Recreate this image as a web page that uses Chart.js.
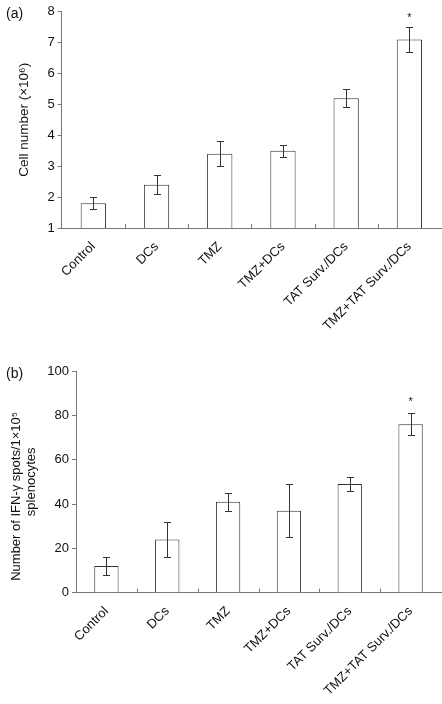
<!DOCTYPE html>
<html>
<head>
<meta charset="utf-8">
<script src="https://cdn.jsdelivr.net/npm/chart.js@4/dist/chart.umd.min.js"></script>
<style>
html,body{margin:0;padding:0;background:#fff;}
#wrap{position:relative;width:442px;height:704px;overflow:hidden;font-family:'Liberation Sans',Arial,sans-serif;}
canvas{position:absolute;left:0;}
#ca{top:0;}
#cb{top:352px;}
.plabel{position:absolute;font-size:14px;color:#111;line-height:1;}
</style>
</head>
<body>
<div id="wrap">
<canvas id="ca" width="442" height="352"></canvas>
<canvas id="cb" width="442" height="352"></canvas>
<div class="plabel" style="left:6px;top:6px;">(a)</div>
<div class="plabel" style="left:6px;top:366px;">(b)</div>
</div>
<script>
const categories = ['Control', 'DCs', 'TMZ', 'TMZ+DCs', 'TAT Surv./DCs', 'TMZ+TAT Surv./DCs'];
const cellNumber = [1.8, 2.4, 3.4, 3.5, 5.2, 7.1];
const cellNumberErr = [0.2, 0.3, 0.4, 0.2, 0.3, 0.4];
const ifnSpots = [12, 24, 41, 37, 49, 76];
const ifnSpotsErr = [4, 8, 4, 12, 3, 5];
const significantA = [false, false, false, false, false, true];
const significantB = [false, false, false, false, false, true];
const yTicksA = [1, 2, 3, 4, 5, 6, 7, 8];
const yTicksB = [0, 20, 40, 60, 80, 100];

const FONT = "'Liberation Sans', Arial, sans-serif";
Chart.defaults.font.family = FONT;
Chart.defaults.color = '#111';

const errPlugin = {
  id: 'errbars',
  afterDatasetsDraw(chart, args, opts) {
    const ctx = chart.ctx;
    const meta = chart.getDatasetMeta(0);
    const ys = chart.scales.y;
    const xs = chart.scales.x;
    const vals = chart.data.datasets[0].data;
    const errs = opts.errors;
    ctx.save();
    ctx.strokeStyle = '#777';
    ctx.lineWidth = 1;
    const n = vals.length;
    const step = (xs.right - xs.left) / n;
    ctx.beginPath();
    for (let i = 1; i < n; i++) {
      const px = Math.round(xs.left + step * i) + 0.5;
      ctx.moveTo(px, ys.bottom);
      ctx.lineTo(px, ys.bottom - 4);
    }
    ctx.stroke();
    ctx.strokeStyle = '#333';
    ctx.beginPath();
    meta.data.forEach((bar, i) => {
      const x = Math.round(bar.x) + 0.5;
      const yT = Math.round(ys.getPixelForValue(vals[i] + errs[i])) + 0.5;
      const yB = Math.round(ys.getPixelForValue(vals[i] - errs[i])) + 0.5;
      ctx.moveTo(x, yT); ctx.lineTo(x, yB);
      ctx.moveTo(x - 3.5, yT); ctx.lineTo(x + 3.5, yT);
      ctx.moveTo(x - 3.5, yB); ctx.lineTo(x + 3.5, yB);
    });
    ctx.stroke();
    ctx.fillStyle = '#111';
    ctx.font = '11px ' + FONT;
    ctx.textAlign = 'center';
    ctx.textBaseline = 'middle';
    meta.data.forEach((bar, i) => {
      if (opts.sig[i]) {
        const yT = ys.getPixelForValue(vals[i] + errs[i]);
        ctx.fillText('*', bar.x, yT - opts.starGap);
      }
    });
    ctx.restore();
  }
};

function makeChart(id, values, errs, sig, yMin, yMax, yTickVals, title, yWidth, xHeight, padTop, titleOpts, starGap) {
  return new Chart(document.getElementById(id), {
    type: 'bar',
    data: {
      labels: categories,
      datasets: [{
        data: values,
        backgroundColor: '#fff',
        borderColor: '#333',
        borderWidth: 1,
        barPercentage: 0.4,
        categoryPercentage: 1.0
      }]
    },
    options: {
      responsive: false,
      animation: false,
      devicePixelRatio: 1,
      layout: { padding: { top: padTop, right: 1, left: 0, bottom: 0 } },
      plugins: {
        legend: { display: false },
        tooltip: { enabled: false },
        errbars: { errors: errs, sig: sig, starGap: starGap }
      },
      scales: {
        x: {
          grid: { display: true, drawOnChartArea: false, drawTicks: false, color: '#777' },
          border: { display: true, color: '#777', width: 1 },
          ticks: {
            maxRotation: 45, minRotation: 45, autoSkip: false,
            font: { size: 13 }, color: '#111', padding: 11
          },
          afterFit(s) { s.height = xHeight; }
        },
        y: {
          min: yMin, max: yMax,
          afterBuildTicks(s) { s.ticks = yTickVals.map(v => ({ value: v })); },
          grid: { display: true, drawOnChartArea: false, drawTicks: true, tickLength: 4, color: '#777' },
          border: { display: true, color: '#777', width: 1 },
          ticks: { font: { size: 13 }, color: '#111', padding: 3 },
          title: Object.assign({ display: true, text: title, color: '#111' }, titleOpts),
          afterFit(s) { s.width = yWidth; }
        }
      }
    },
    plugins: [errPlugin]
  });
}

makeChart('ca', cellNumber, cellNumberErr, significantA, 1, 8, yTicksA,
  'Cell number (×10⁶)', 61.7, 124, 11.7,
  { font: { size: 13.5, lineHeight: 1.2 }, padding: { top: 16, bottom: 0 } }, 9);

makeChart('cb', ifnSpots, ifnSpotsErr, significantB, 0, 100, yTicksB,
  ['Number of IFN-γ spots/1×10⁵        ', 'splenocytes'], 76, 111.3, 19,
  { font: { size: 13, lineHeight: 1.15 }, padding: { top: 8.5, bottom: 0 } }, 11);
</script>
</body>
</html>
